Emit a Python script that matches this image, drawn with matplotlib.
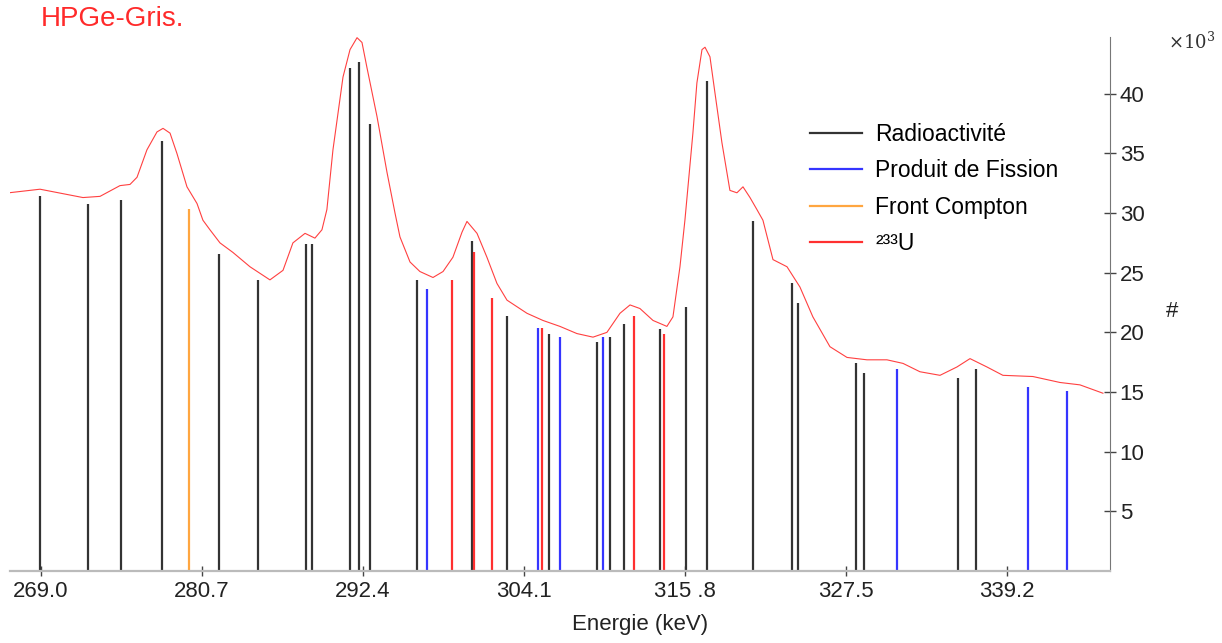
import matplotlib
matplotlib.use("Agg")
import matplotlib.pyplot as plt
from matplotlib.lines import Line2D

plt.rcParams['font.family'] = ['Liberation Sans', 'DejaVu Sans']

# spectre HPGe (keV, coups x1000)
energy = [266.67, 268.93, 272.05, 273.29, 274.74, 275.47, 275.98, 276.70, 277.43, 277.87,
          278.38, 278.88, 279.61, 280.34, 280.77, 281.28, 282.01, 282.95, 284.19, 285.64,
          286.59, 287.31, 288.19, 288.91, 289.42, 289.78, 290.22, 290.95, 291.46, 291.97,
          292.33, 292.69, 293.42, 294.15, 294.73, 295.09, 295.82, 296.54, 297.49, 298.22,
          298.94, 299.60, 299.96, 300.69, 301.41, 302.14, 302.87, 304.32, 305.48, 306.72,
          307.95, 309.12, 310.13, 311.08, 311.81, 312.53, 313.48, 314.49, 314.93, 315.44,
          315.80, 316.38, 316.67, 317.04, 317.26, 317.62, 317.98, 318.49, 319.07, 319.58,
          320.02, 320.53, 321.03, 321.47, 322.20, 323.22, 324.16, 325.10, 326.34, 327.58,
          329.03, 330.48, 331.65, 332.88, 334.34, 335.57, 336.52, 337.75, 338.91, 341.09,
          343.06, 344.51, 346.18]
counts = [31.7, 32.0, 31.3, 31.4, 32.3, 32.4, 33.0, 35.3, 36.8, 37.1,
          36.7, 35.0, 32.2, 30.8, 29.4, 28.6, 27.5, 26.7, 25.5, 24.4,
          25.2, 27.5, 28.3, 27.9, 28.6, 30.3, 35.3, 41.4, 43.7, 44.7,
          44.3, 42.2, 38.1, 33.4, 30.0, 28.0, 25.9, 25.1, 24.6, 25.1,
          26.3, 28.4, 29.3, 28.3, 26.3, 24.1, 22.7, 21.6, 21.0, 20.5,
          19.9, 19.6, 20.0, 21.6, 22.3, 22.0, 21.0, 20.5, 21.3, 25.5,
          29.4, 36.7, 40.9, 43.7, 43.9, 43.1, 40.1, 35.9, 31.9, 31.7,
          32.2, 31.3, 30.3, 29.4, 26.1, 25.5, 23.8, 21.3, 18.8, 17.9,
          17.7, 17.7, 17.4, 16.7, 16.4, 17.1, 17.8, 17.1, 16.4, 16.3,
          15.8, 15.6, 14.9]

# raies
radio_e = [268.93, 272.42, 274.81, 277.79, 281.94, 284.77, 288.26, 288.69, 291.46, 292.11,
           292.91, 296.33, 300.32, 302.87, 305.92, 309.41, 310.35, 311.37, 313.99, 315.88,
           317.40, 320.74, 323.58, 324.01, 328.23, 328.81, 335.64, 336.95]
radio_h = [31.4, 30.8, 31.1, 36.0, 26.6, 24.4, 27.4, 27.4, 42.2, 42.7,
           37.5, 24.4, 27.7, 21.4, 19.9, 19.2, 19.6, 20.7, 20.3, 22.1,
           41.1, 29.3, 24.1, 22.5, 17.4, 16.6, 16.2, 16.9]
fission_e = [297.05, 305.12, 306.72, 309.84, 331.21, 340.73, 343.56]
fission_h = [23.6, 20.4, 19.6, 19.6, 16.9, 15.4, 15.1]
compton_e = [279.76]
compton_h = [30.3]
u233_e = [298.87, 300.47, 301.78, 305.41, 312.10, 314.28]
u233_h = [24.4, 26.7, 22.9, 20.4, 21.4, 19.9]

xticks = [269.0, 280.7, 292.4, 304.1, 315.8, 327.5, 339.2]
xticklabels = ['269.0', '280.7', '292.4', '304.1', '315 .8', '327.5', '339.2']
yticks = [5, 10, 15, 20, 25, 30, 35, 40]

c_black = '#333333'
c_blue = '#3535ff'
c_orange = '#ffa640'
c_red = '#ff3030'

fig = plt.figure(figsize=(12.22, 6.43), dpi=100)
ax = fig.add_axes([0.0082, 0.112, 0.9001, 0.8305])

ax.vlines(radio_e, 0, radio_h, color=c_black, lw=1.6)
ax.vlines(fission_e, 0, fission_h, color=c_blue, lw=1.6)
ax.vlines(compton_e, 0, compton_h, color=c_orange, lw=1.6)
ax.vlines(u233_e, 0, u233_h, color=c_red, lw=1.6)
ax.plot(energy, counts, color='#ff4040', lw=0.8)

ax.set_xlim(266.75, 346.69)
ax.set_ylim(0, 44.76)

for s in ['left', 'top']:
    ax.spines[s].set_visible(False)
ax.spines['right'].set_color('#777777')
ax.spines['bottom'].set_color('#bbbbbb')
ax.spines['bottom'].set_linewidth(1.6)

ax.yaxis.tick_right()
ax.set_yticks(yticks)
ax.set_yticklabels([str(v) for v in yticks])
ax.tick_params(axis='y', direction='inout', length=8, width=1, color='#444444',
               labelsize=16, labelcolor='#222222', pad=3)
ax.set_xticks(xticks)
ax.set_xticklabels(xticklabels)
ax.tick_params(axis='x', direction='inout', length=7, width=1, color='#444444',
               labelsize=16, labelcolor='#222222', pad=4)

ax.set_xlabel('Energie (keV)', fontsize=16, color='#222222')
ax.xaxis.set_label_coords(0.573, -0.101)
ax.xaxis.label.set_va('center')
fig.text(0.959, 0.515, '#', fontsize=16, color='#222222', ha='center', va='center')
fig.text(0.975, 0.935, r'$\times10^3$', fontsize=13, color='#333333', ha='center',
         va='center', family='DejaVu Serif', math_fontfamily='dejavuserif')
fig.text(0.033, 0.97, 'HPGe-Gris.', fontsize=20, color='#ff2a2a', ha='left', va='center')

handles = [Line2D([], [], color=c_black, lw=1.6),
           Line2D([], [], color=c_blue, lw=1.6),
           Line2D([], [], color=c_orange, lw=1.6),
           Line2D([], [], color=c_red, lw=1.6)]
labels = ['Radioactivité', 'Produit de Fission', 'Front Compton', '²³³U']
ax.legend(handles, labels, loc='upper left', bbox_to_anchor=(0.719, 0.856),
          frameon=False, fontsize=16.5, handlelength=2.27, handletextpad=0.57,
          labelspacing=0.58, borderaxespad=0)

fig.savefig('out.png', dpi=100)
